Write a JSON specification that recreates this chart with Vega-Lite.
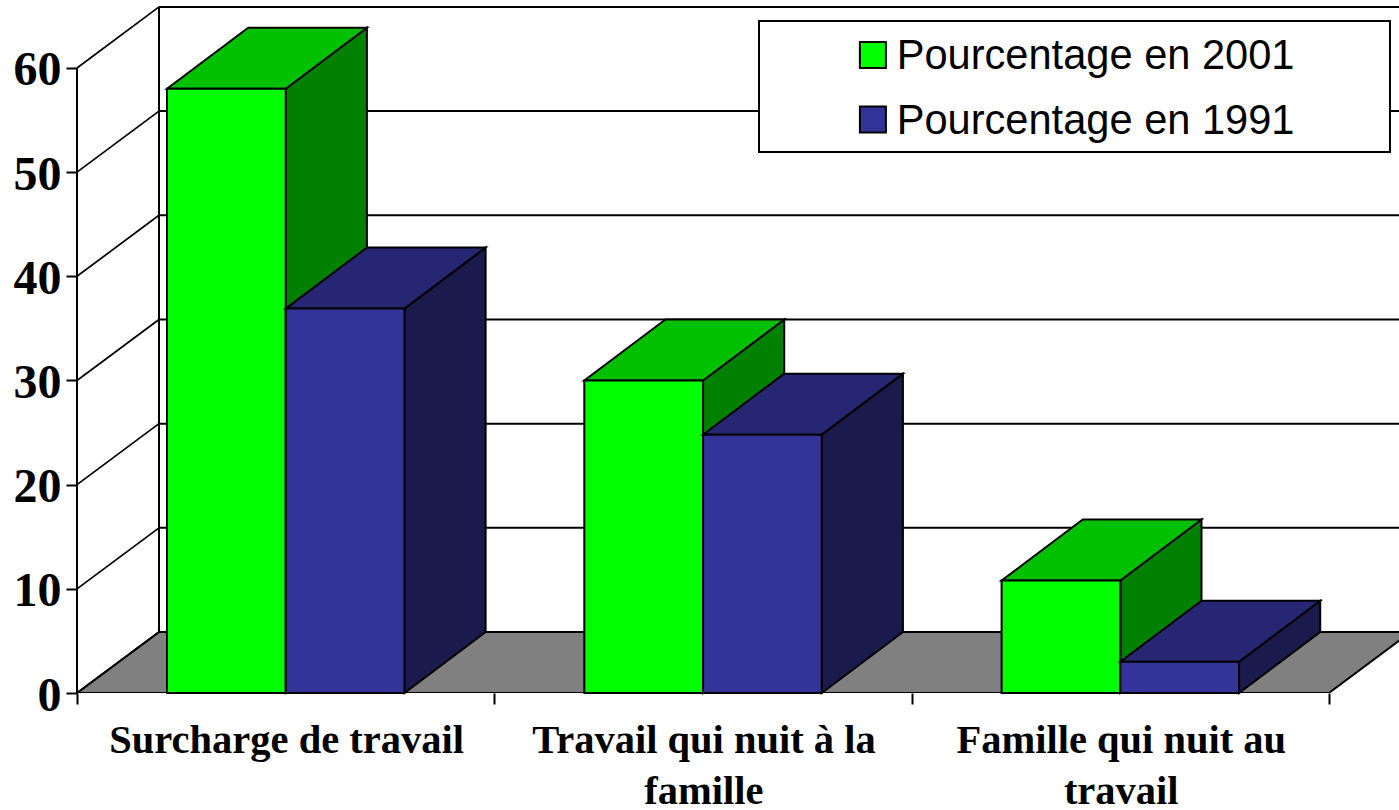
{
"$schema":"https://vega.github.io/schema/vega-lite/v6.json",
"width":1322,"height":686,
"padding":{"left":77,"top":7,"right":0,"bottom":117},
"autosize":"none",
"background":"white",
"view":{"stroke":null},
"datasets":{
 "bars":[
  {"category":"Surcharge de travail","idx":0,"series":"Pourcentage en 2001","s":0,"value":58},
  {"category":"Surcharge de travail","idx":0,"series":"Pourcentage en 1991","s":1,"value":36.9},
  {"category":"Travail qui nuit à la famille","idx":1,"series":"Pourcentage en 2001","s":0,"value":30},
  {"category":"Travail qui nuit à la famille","idx":1,"series":"Pourcentage en 1991","s":1,"value":24.8},
  {"category":"Famille qui nuit au travail","idx":2,"series":"Pourcentage en 2001","s":0,"value":10.8},
  {"category":"Famille qui nuit au travail","idx":2,"series":"Pourcentage en 1991","s":1,"value":3}
 ],
 "grid":[{"level":0},{"level":10},{"level":20},{"level":30},{"level":40},{"level":50},{"level":60}],
 "labels":[
  {"idx":0,"label":["Surcharge de travail"]},
  {"idx":1,"label":["Travail qui nuit à la","famille"]},
  {"idx":2,"label":["Famille qui nuit au","travail"]}
 ],
 "floor":[{"level":0,"t":0},{"level":0,"t":1}]
},
"params":[
 {"name":"dx","value":0.1965},
 {"name":"bdx","value":0.1945},
 {"name":"dy","value":5.856},
 {"name":"w","value":0.2845},
 {"name":"off","value":0.2157}
],
"encoding":{},
"layer":[
 {"data":{"name":"floor"},
  "transform":[{"calculate":"datum.t*dx","as":"xa"},{"calculate":"3+datum.t*dx","as":"xb"},{"calculate":"datum.t*dy","as":"yy"}],
  "mark":{"type":"area","orient":"horizontal","fill":"#808080","stroke":"black","strokeWidth":2,"clip":true},
  "encoding":{
   "y":{"field":"yy","type":"quantitative","scale":{"domain":[0,65.85],"nice":false,"zero":false},
     "axis":{"title":null,"values":[0,10,20,30,40,50,60],"grid":false,"domain":false,"labelFont":"Liberation Serif","labelFontWeight":"bold","labelFontSize":48,"labelColor":"black","labelPadding":5,"labelOffset":3,"tickSize":11,"tickColor":"black","tickWidth":2}},
   "x":{"field":"xa","type":"quantitative","scale":{"domain":[0,3.168],"nice":false,"zero":false},
     "axis":{"title":null,"values":[0,1,2,3],"labels":false,"grid":false,"domain":false,"tickSize":11,"tickColor":"black","tickWidth":2}},
   "x2":{"field":"xb"}
  }},
 {"data":{"name":"grid"},
  "transform":[{"calculate":"datum.level+dy","as":"yBack"},{"calculate":"dx","as":"xBack"},{"calculate":"3.168","as":"xEnd"}],
  "mark":{"type":"rule","color":"black","strokeWidth":2},
  "encoding":{"x":{"field":"xBack","type":"quantitative"},"x2":{"field":"xEnd"},"y":{"field":"yBack","type":"quantitative"}}},
 {"data":{"name":"grid"},
  "transform":[{"calculate":"datum.level+dy","as":"yBack"},{"calculate":"dx","as":"xBack"},{"calculate":"0","as":"xFront"}],
  "mark":{"type":"rule","color":"black","strokeWidth":1.7},
  "encoding":{"x":{"field":"xFront","type":"quantitative"},"x2":{"field":"xBack"},"y":{"field":"level","type":"quantitative"},"y2":{"field":"yBack"}}},
 {"data":{"name":"grid"},
  "transform":[{"filter":"datum.level==60"},{"calculate":"dx","as":"xBack"},{"calculate":"dy","as":"yLow"},{"calculate":"60+dy","as":"yHigh"}],
  "mark":{"type":"rule","color":"black","strokeWidth":2},
  "encoding":{"x":{"field":"xBack","type":"quantitative"},"y":{"field":"yLow","type":"quantitative"},"y2":{"field":"yHigh"}}},
 {"data":{"name":"grid"},
  "transform":[{"filter":"datum.level==60"},{"calculate":"0","as":"xFront"},{"calculate":"0","as":"yLow"}],
  "mark":{"type":"rule","color":"black","strokeWidth":2},
  "encoding":{"x":{"field":"xFront","type":"quantitative"},"y":{"field":"yLow","type":"quantitative"},"y2":{"field":"level"}}},

 {"data":{"name":"bars"},
  "transform":[{"filter":"datum.s==0"},{"calculate":"[0,1]","as":"t"},{"flatten":["t"]},{"calculate":"datum.idx+off+datum.s*w+w+datum.t*bdx","as":"xs"},{"calculate":"datum.value+datum.t*dy","as":"ya"},{"calculate":"datum.t*dy","as":"yb"}],
  "mark":{"type":"area","orient":"vertical","fill":"#008000","stroke":"black","strokeWidth":2},
  "encoding":{"detail":{"field":"idx"},"x":{"field":"xs","type":"quantitative"},"y":{"field":"ya","type":"quantitative"},"y2":{"field":"yb"}}},
 {"data":{"name":"bars"},
  "transform":[{"filter":"datum.s==0"},{"calculate":"[0,1]","as":"t"},{"flatten":["t"]},{"calculate":"datum.idx+off+datum.s*w+datum.t*bdx","as":"xa"},{"calculate":"datum.idx+off+datum.s*w+w+datum.t*bdx","as":"xb"},{"calculate":"datum.value+datum.t*dy","as":"ya"}],
  "mark":{"type":"area","orient":"horizontal","fill":"#00C000","stroke":"black","strokeWidth":2},
  "encoding":{"detail":{"field":"idx"},"x":{"field":"xa","type":"quantitative"},"x2":{"field":"xb"},"y":{"field":"ya","type":"quantitative"}}},
 {"data":{"name":"bars"},
  "transform":[{"filter":"datum.s==0"},{"calculate":"datum.idx+off+datum.s*w","as":"xa"},{"calculate":"datum.idx+off+datum.s*w+w","as":"xb"},{"calculate":"0","as":"y0"}],
  "mark":{"type":"rect","stroke":"black","strokeWidth":2},
  "encoding":{"x":{"field":"xa","type":"quantitative"},"x2":{"field":"xb"},"y":{"field":"value","type":"quantitative"},"y2":{"field":"y0"},
   "fill":{"field":"series","type":"nominal","scale":{"domain":["Pourcentage en 2001","Pourcentage en 1991"],"range":["#00FF00","#333399"]},
    "legend":{"title":"—","titleOrient":"right","titleOpacity":0,"titleFont":"Liberation Sans","titleFontSize":75,"titlePadding":10,"orient":"none","legendX":682,"legendY":14,"fillColor":"white","strokeColor":"black","padding":9.6,"symbolType":"M-1,-0.72H1V1.28H-1Z","symbolSize":676,"symbolStrokeColor":"black","symbolStrokeWidth":2,"symbolOffset":83.5,"labelFont":"Liberation Sans","labelFontSize":41.6,"labelColor":"black","labelOffset":3,"rowPadding":17.5,"labelLimit":700,"encode":{"legend":{"update":{"strokeWidth":{"value":2}}},"labels":{"update":{"dy":{"value":5.6}}}}}}}},

 {"data":{"name":"bars"},
  "transform":[{"filter":"datum.s==1"},{"calculate":"[0,1]","as":"t"},{"flatten":["t"]},{"calculate":"datum.idx+off+datum.s*w+w+datum.t*bdx","as":"xs"},{"calculate":"datum.value+datum.t*dy","as":"ya"},{"calculate":"datum.t*dy","as":"yb"}],
  "mark":{"type":"area","orient":"vertical","fill":"#1A1A4D","stroke":"black","strokeWidth":2},
  "encoding":{"detail":{"field":"idx"},"x":{"field":"xs","type":"quantitative"},"y":{"field":"ya","type":"quantitative"},"y2":{"field":"yb"}}},
 {"data":{"name":"bars"},
  "transform":[{"filter":"datum.s==1"},{"calculate":"[0,1]","as":"t"},{"flatten":["t"]},{"calculate":"datum.idx+off+datum.s*w+datum.t*bdx","as":"xa"},{"calculate":"datum.idx+off+datum.s*w+w+datum.t*bdx","as":"xb"},{"calculate":"datum.value+datum.t*dy","as":"ya"}],
  "mark":{"type":"area","orient":"horizontal","fill":"#262673","stroke":"black","strokeWidth":2},
  "encoding":{"detail":{"field":"idx"},"x":{"field":"xa","type":"quantitative"},"x2":{"field":"xb"},"y":{"field":"ya","type":"quantitative"}}},
 {"data":{"name":"bars"},
  "transform":[{"filter":"datum.s==1"},{"calculate":"datum.idx+off+datum.s*w","as":"xa"},{"calculate":"datum.idx+off+datum.s*w+w","as":"xb"},{"calculate":"0","as":"y0"}],
  "mark":{"type":"rect","stroke":"black","strokeWidth":2},
  "encoding":{"x":{"field":"xa","type":"quantitative"},"x2":{"field":"xb"},"y":{"field":"value","type":"quantitative"},"y2":{"field":"y0"},
   "fill":{"field":"series","type":"nominal"}}},

 {"data":{"name":"labels"},
  "transform":[{"calculate":"datum.idx+0.5","as":"xc"},{"calculate":"0","as":"y0"}],
  "mark":{"type":"text","font":"Liberation Serif","fontWeight":"bold","fontSize":40.5,"color":"black","baseline":"top","align":"center","dx":1,"dy":28,"lineHeight":51,"clip":false},
  "encoding":{"x":{"field":"xc","type":"quantitative"},"y":{"field":"y0","type":"quantitative"},"text":{"field":"label"}}}
]
}
